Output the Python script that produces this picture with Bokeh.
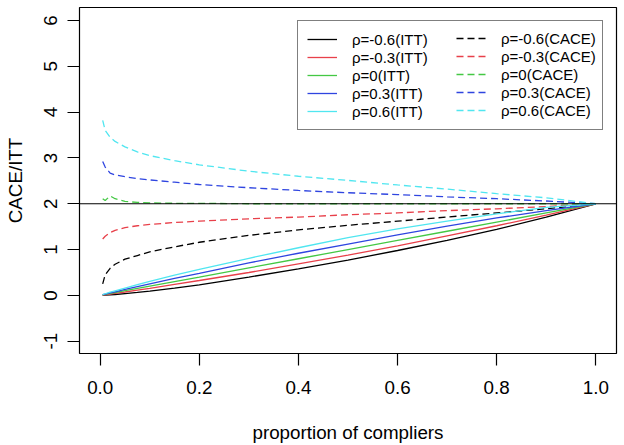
from bokeh.embed import file_html
from bokeh.models import (FixedTicker, Legend, LegendItem,
                          PrintfTickFormatter, Span)
from bokeh.plotting import figure
from bokeh.resources import INLINE

# proportion of compliers at which both estimands were evaluated
compliers = [0.005, 0.01, 0.02, 0.03, 0.05, 0.075, 0.1, 0.15, 0.2,
             0.3, 0.4, 0.5, 0.6, 0.7, 0.8, 0.9, 1.0]

# ITT effect for each correlation rho
itt_m06 = [0.00, 0.005, 0.012, 0.02, 0.04, 0.065, 0.095, 0.16, 0.23,
           0.40, 0.58, 0.77, 0.98, 1.20, 1.44, 1.71, 2.00]
itt_m03 = [0.006, 0.013, 0.027, 0.043, 0.074, 0.114, 0.155, 0.24, 0.325,
           0.50, 0.69, 0.88, 1.08, 1.30, 1.52, 1.75, 2.00]
itt_0 = [0.011, 0.021, 0.043, 0.063, 0.103, 0.152, 0.202, 0.302, 0.40,
         0.60, 0.80, 1.00, 1.20, 1.40, 1.60, 1.80, 2.00]
itt_p03 = [0.015, 0.028, 0.053, 0.079, 0.13, 0.19, 0.25, 0.37, 0.48,
           0.71, 0.92, 1.12, 1.32, 1.51, 1.69, 1.85, 2.00]
itt_p06 = [0.019, 0.036, 0.069, 0.10, 0.16, 0.235, 0.305, 0.44, 0.57,
           0.81, 1.04, 1.26, 1.45, 1.62, 1.78, 1.92, 2.00]

# CACE for each correlation rho
cace_m06 = [0.25, 0.45, 0.59, 0.68, 0.79, 0.87, 0.95, 1.06, 1.16,
            1.31, 1.43, 1.53, 1.62, 1.71, 1.80, 1.89, 2.00]
cace_m03 = [1.23, 1.29, 1.37, 1.42, 1.48, 1.52, 1.55, 1.59, 1.62,
            1.67, 1.71, 1.76, 1.80, 1.85, 1.89, 1.94, 2.00]
cace_0 = [2.11, 2.07, 2.17, 2.11, 2.05, 2.03, 2.02, 2.01, 2.01,
          2.00, 2.00, 2.00, 2.00, 2.00, 2.00, 2.00, 2.00]
cace_p03 = [2.92, 2.80, 2.67, 2.63, 2.59, 2.55, 2.52, 2.47, 2.42,
            2.35, 2.29, 2.24, 2.20, 2.15, 2.11, 2.06, 2.00]
cace_p06 = [3.82, 3.60, 3.45, 3.36, 3.24, 3.13, 3.05, 2.94, 2.85,
            2.71, 2.60, 2.51, 2.41, 2.32, 2.22, 2.13, 2.00]

rho_labels = ["-0.6", "-0.3", "0", "0.3", "0.6"]
itt_series = [itt_m06, itt_m03, itt_0, itt_p03, itt_p06]
cace_series = [cace_m06, cace_m03, cace_0, cace_p03, cace_p06]
line_colors = ["#000000", "#E8404A", "#44C844", "#2F45E0", "#50E6F0"]

x_ticks = [0.0, 0.2, 0.4, 0.6, 0.8, 1.0]
y_ticks = [-1, 0, 1, 2, 3, 4, 5, 6]
ref_level = 2

FONT = "Liberation Sans"
AXIS_SIZE = "18.8px"

p = figure(width=624, height=445,
           x_range=(-0.0418, 1.0418), y_range=(-1.268, 6.283),
           output_backend="svg", toolbar_location=None,
           min_border_left=79, min_border_right=8,
           min_border_top=7, min_border_bottom=92)
p.title.visible = False
p.background_fill_color = "white"
p.border_fill_color = "white"
p.outline_line_color = "black"
p.outline_line_width = 1.2
p.xgrid.visible = False
p.ygrid.visible = False

p.xaxis.ticker = FixedTicker(ticks=x_ticks)
p.xaxis.formatter = PrintfTickFormatter(format="%.1f")
p.yaxis.ticker = FixedTicker(ticks=y_ticks)
p.yaxis.formatter = PrintfTickFormatter(format="%d")
p.yaxis.major_label_orientation = "vertical"

for ax in (p.xaxis[0], p.yaxis[0]):
    ax.axis_line_color = None
    ax.major_tick_out = 12
    ax.major_tick_in = 0
    ax.minor_tick_out = 0
    ax.minor_tick_in = 0
    ax.major_tick_line_color = "black"
    ax.major_tick_line_width = 1.2
    ax.major_label_text_font = FONT
    ax.major_label_text_font_size = AXIS_SIZE
    ax.major_label_text_color = "black"
    ax.axis_label_text_font = FONT
    ax.axis_label_text_font_size = AXIS_SIZE
    ax.axis_label_text_font_style = "normal"
    ax.axis_label_text_color = "black"

p.xaxis.major_label_standoff = 15
p.yaxis.major_label_standoff = 10
p.xaxis.axis_label = "proportion of compliers"
p.xaxis.axis_label_standoff = 25
p.yaxis.axis_label = "CACE/ITT"
p.yaxis.axis_label_standoff = 16

p.add_layout(Span(location=ref_level, dimension="width",
                  line_color="black", line_width=1.2))

itt_items, cace_items = [], []
for rho, itt, cace, col in zip(rho_labels, itt_series, cace_series, line_colors):
    r_itt = p.line(compliers, itt, line_color=col, line_width=1.3)
    r_cace = p.line(compliers, cace, line_color=col, line_width=1.3,
                    line_dash="7 4")
    itt_items.append(LegendItem(label=f"ρ={rho}(ITT)", renderers=[r_itt]))
    cace_items.append(LegendItem(label=f"ρ={rho}(CACE)", renderers=[r_cace]))

common = dict(padding=9, spacing=0, glyph_width=30, glyph_height=18,
              label_height=18, label_standoff=15,
              label_text_font=FONT, label_text_font_size="15px",
              label_text_color="black")

# left column carries the frame of the whole legend box
legend_itt = Legend(items=itt_items, location="top_right", margin=13,
                    label_width=241, border_line_color="black",
                    border_line_width=1.2, background_fill_color="white",
                    background_fill_alpha=1.0, **common)
legend_cace = Legend(items=cace_items, location=(377, 234), margin=0,
                     label_width=90, border_line_color=None,
                     background_fill_alpha=0.0, **common)
p.add_layout(legend_itt)
p.add_layout(legend_cace)

with open("out.html", "w") as f:
    f.write(file_html(p, INLINE))
